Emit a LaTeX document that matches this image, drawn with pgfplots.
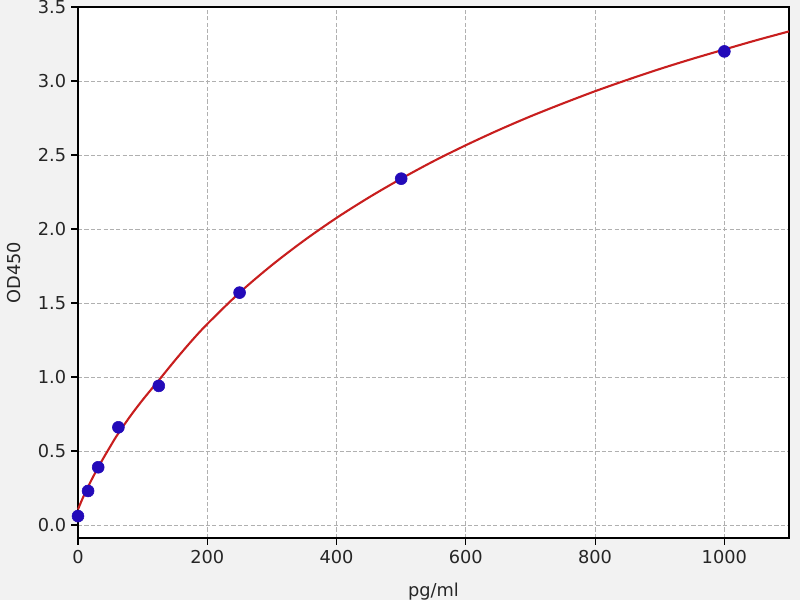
\documentclass[border=0pt]{standalone}
\usepackage{fontspec}
\setmainfont{DejaVu Sans}
\usepackage{pgfplots}
\pgfplotsset{compat=1.18}
\definecolor{bgc}{RGB}{242,242,242}
\definecolor{gridc}{RGB}{176,176,176}
\definecolor{curvec}{RGB}{200,30,30}
\definecolor{markc}{RGB}{35,10,185}
\begin{document}
\begin{tikzpicture}[x=0.72pt,y=0.72pt]
\fill[bgc] (0,0) rectangle (800,600);
\clip (0,0) rectangle (800,600);
\begin{axis}[
  at={(56.16pt,44.64pt)}, anchor=south west,
  scale only axis, width=511.92pt, height=382.32pt,
  xmin=0, xmax=1100, ymin=-0.088, ymax=3.5,
  xtick={0,200,400,600,800,1000},
  ytick={0,0.5,1,1.5,2,2.5,3,3.5},
  xticklabel style={/pgf/number format/1000 sep={}},
  yticklabel style={/pgf/number format/fixed,/pgf/number format/fixed zerofill,/pgf/number format/precision=1},
  /pgf/number format/assume math mode=true,
  tick style={black, line width=0.8pt},
  tick align=outside, major tick length=5pt,
  xtick pos=bottom, ytick pos=left,
  axis line style={black, line width=0.9pt},
  axis background/.style={fill=white},
  grid=major,
  major grid style={gridc, dash pattern=on 3pt off 1.6pt, line width=0.6pt},
  tick label style={font=\fontsize{12.8}{15}\selectfont, text=black!85},
  label style={font=\fontsize{12.8}{15}\selectfont, text=black!85},
  xlabel={pg/ml}, ylabel={OD450},
  x label style={at={(axis description cs:0.5,-0.076)}, anchor=north},
  y label style={at={(axis description cs:-0.09,0.5)}, anchor=center},
  clip=false,
]
\addplot[only marks, mark=*, mark size=4.3pt, mark options={fill=markc, draw=markc}] coordinates {
 (0,0.06) (15.6,0.23) (31.25,0.39) (62.5,0.66) (125,0.94) (250,1.57) (500,2.34) (1000,3.20)
};
\addplot[curvec, line width=1.5pt, smooth] coordinates {
 (0,0.105) (5,0.158) (10,0.207) (20,0.297) (30,0.380) (40,0.457) (50,0.531) (60,0.603)
 (80,0.730) (100,0.845) (125,0.978) (150,1.112) (175,1.240) (200,1.358) (250,1.570)
 (300,1.756) (350,1.923) (400,2.075) (450,2.213) (500,2.340) (550,2.458) (600,2.566)
 (650,2.667) (700,2.761) (750,2.848) (800,2.931) (850,3.008) (900,3.081) (950,3.149)
 (1000,3.213) (1050,3.276) (1100,3.335)
};
\end{axis}
\end{tikzpicture}
\end{document}
